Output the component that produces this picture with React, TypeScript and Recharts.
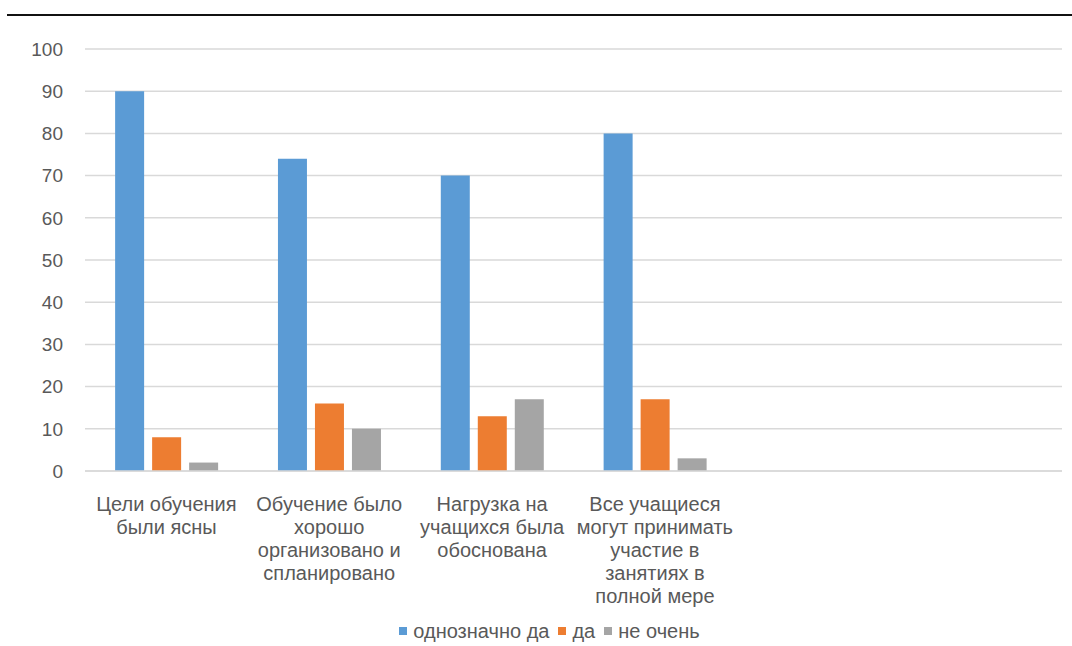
import { BarChart, Bar, XAxis, YAxis, CartesianGrid, Legend } from "recharts";

const categories = [
  "Цели обучения были ясны",
  "Обучение было хорошо организовано и спланировано",
  "Нагрузка на учащихся была обоснована",
  "Все учащиеся могут принимать участие в занятиях в полной мере",
  "",
  "",
];

// wrapped tick labels, as in the picture
const tickLines = [
  ["Цели обучения", "были ясны"],
  ["Обучение было", "хорошо", "организовано и", "спланировано"],
  ["Нагрузка на", "учащихся была", "обоснована"],
  ["Все учащиеся", "могут принимать", "участие в", "занятиях в", "полной мере"],
  [],
  [],
];

const definitelyYes = [90, 74, 70, 80, null, null];
const yes = [8, 16, 13, 17, null, null];
const notReally = [2, 10, 17, 3, null, null];

const yTicks = [0, 10, 20, 30, 40, 50, 60, 70, 80, 90, 100];

const series = [
  { key: "definitelyYes", name: "однозначно да", color: "#5b9bd5" },
  { key: "yes", name: "да", color: "#ed7d31" },
  { key: "notReally", name: "не очень", color: "#a5a5a5" },
];

const data = categories.map((c, i) => ({
  name: c,
  definitelyYes: definitelyYes[i],
  yes: yes[i],
  notReally: notReally[i],
}));

const FONT = "'Liberation Sans', Arial, sans-serif";
const TEXT = "#595959";

const CategoryTick = (props: any) => {
  const { x, y, payload } = props;
  const lines = tickLines[payload.index] || [];
  return (
    <text x={x} y={y} textAnchor="middle" fill={TEXT} fontSize={20} fontFamily={FONT}>
      {lines.map((l, i) => (
        <tspan key={i} x={x} dy={i === 0 ? 32 : 23}>
          {l}
        </tspan>
      ))}
    </text>
  );
};

const LegendContent = () => (
  <div
    style={{
      height: 30,
      display: "flex",
      justifyContent: "center",
      alignItems: "center",
      fontFamily: FONT,
      fontSize: 20,
      color: TEXT,
      paddingLeft: 46,
    }}
  >
    {series.map((s) => (
      <span key={s.key} style={{ display: "inline-flex", alignItems: "center", marginRight: 9 }}>
        <span style={{ width: 8, height: 8, background: s.color, display: "inline-block", marginRight: 6 }} />
        {s.name}
      </span>
    ))}
  </div>
);

export default function App() {
  return (
    <div
      style={{
        position: "fixed",
        left: 0,
        top: 0,
        width: 1072,
        height: 646,
        background: "#fff",
      }}
    >
      <div style={{ position: "absolute", left: 7, top: 14, width: 1065, height: 2, background: "#111" }} />
      <BarChart
        width={1072}
        height={646}
        data={data}
        margin={{ top: 49, right: 10, left: 0, bottom: 0 }}
        barCategoryGap="18.5%"
        barGap={8}
      >
        <CartesianGrid vertical={false} stroke="#d9d9d9" strokeWidth={1.5} />
        <XAxis
          dataKey="name"
          axisLine={{ stroke: "#d9d9d9", strokeWidth: 1.5 }}
          tickLine={false}
          interval={0}
          height={145}
          tick={<CategoryTick />}
        />
        <YAxis
          domain={[0, 100]}
          ticks={yTicks}
          axisLine={false}
          tickLine={false}
          width={85}
          tickMargin={16}
          tick={{ fill: TEXT, fontSize: 19, fontFamily: FONT }}
        />
        <Legend verticalAlign="bottom" content={<LegendContent />} />
        {series.map((s) => (
          <Bar key={s.key} dataKey={s.key} name={s.name} fill={s.color} isAnimationActive={false} />
        ))}
      </BarChart>
    </div>
  );
}
